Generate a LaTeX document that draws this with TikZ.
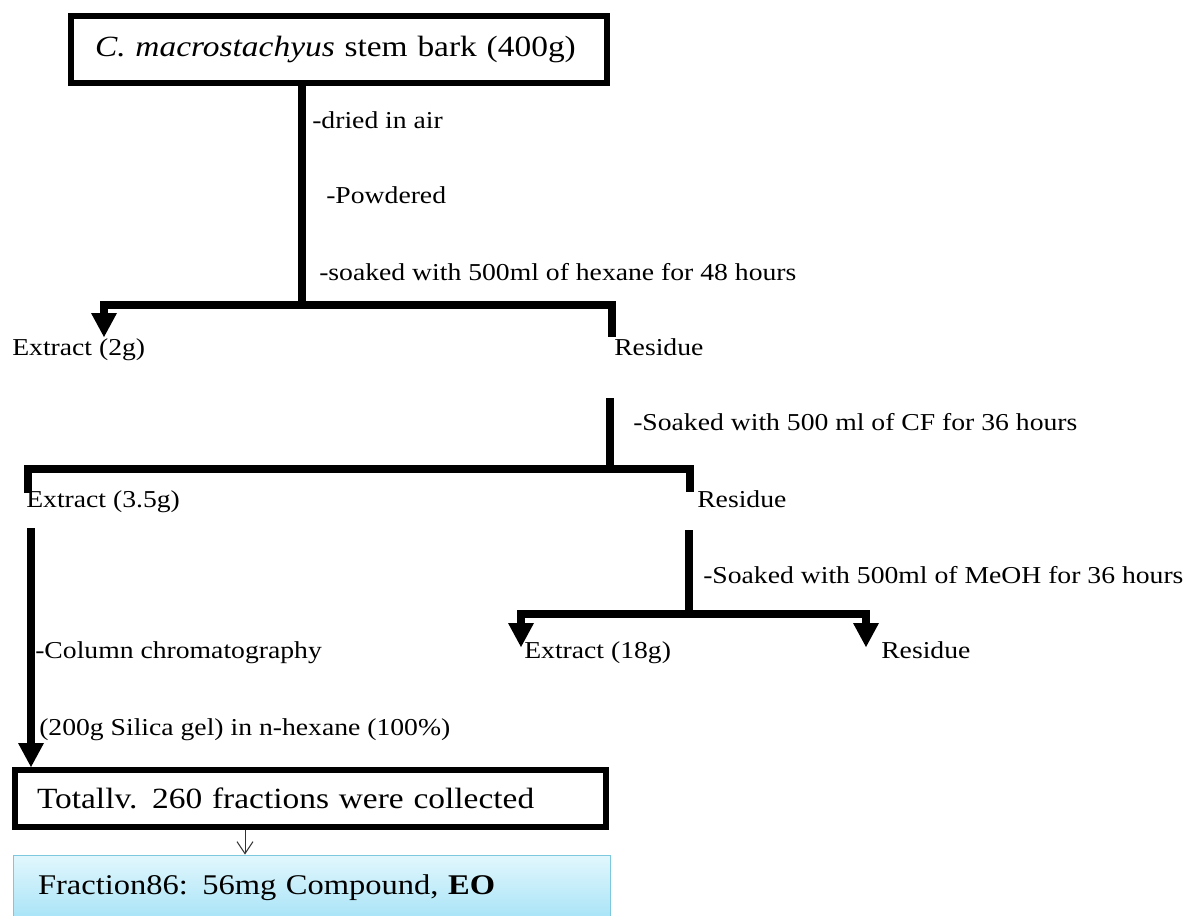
\documentclass[tikz,border=0pt]{standalone}
\usepackage{fontspec}
\setmainfont[FakeStretch=1.14]{Liberation Serif}
\usetikzlibrary{arrows.meta}
\definecolor{cyantop}{HTML}{E2F7FD}
\definecolor{cyanbot}{HTML}{A6E3F7}
\definecolor{cyanedge}{HTML}{7DC8DD}
\tikzset{
  bigtip/.tip={Triangle[width=19.5pt,length=18pt,line width=0pt]},
  conn/.style={line width=6pt, line join=miter, line cap=butt},
  thinarrow/.style={line width=0.75pt, draw=black!80, -{Straight Barb[length=9pt,width=12pt]}},
  lbl/.style={font=\fontsize{18.2pt}{21pt}\selectfont, inner sep=0pt, anchor=base west},
  bigfont/.style={font=\fontsize{22pt}{26pt}\selectfont},
  thickbox/.style={draw, line width=4.5pt, inner ysep=0pt, align=left, bigfont},
  cyanbox/.style={draw=cyanedge, line width=0.75pt, top color=cyantop, bottom color=cyanbot, inner ysep=0pt, align=left, font=\fontsize{21.4pt}{25pt}\selectfont}
}
\begin{document}
\begin{tikzpicture}[x=0.75pt,y=-0.75pt]
\useasboundingbox (0,0) rectangle (1188,915);
\fill[white] (0,0) rectangle (1188,915);
\clip (0,0) rectangle (1188,915);

% boxes
\node[thickbox, minimum width=402pt, minimum height=50.25pt, inner xsep=18pt, text width=366pt]
  (t0) at (339,49.5) {\textit{C. macrostachyus} stem bark (400g)};
\node[thickbox, minimum width=443.25pt, minimum height=42.75pt, inner xsep=16.5pt, text width=410.25pt]
  (t1) at (310.5,798.5) {Totallv. 260 fractions were collected};
\node[cyanbox, minimum width=447.75pt, minimum height=49.5pt, inner xsep=18.4pt, text width=410.95pt]
  (t2) at (312,888) {Fraction86: 56mg Compound, \textbf{EO}};

% labels
\node[lbl] (l1) at (312,128) {-dried in air};
\node[lbl] (l2) at (326,203) {-Powdered};
\node[lbl] (l3) at (319,280) {-soaked with 500ml of hexane for 48 hours};
\node[lbl] (e1) at (12,355) {Extract (2g)};
\node[lbl] (r1) at (614,355) {Residue};
\node[lbl] (l4) at (633,430) {-Soaked with 500 ml of CF for 36 hours};
\node[lbl] (e2) at (26,507) {Extract (3.5g)};
\node[lbl] (r2) at (697,507) {Residue};
\node[lbl] (l5) at (703,583) {-Soaked with 500ml of MeOH for 36 hours};
\node[lbl] (l6) at (35,658) {-Column chromatography};
\node[lbl] (e3) at (524,658) {Extract (18g)};
\node[lbl] (r3) at (881,658) {Residue};
\node[lbl] (l7) at (39,735) {(200g Silica gel) in n-hexane (100\%)};

% junction coordinates
\coordinate (j1) at (302,305);
\coordinate (s1L) at (104,337);
\coordinate (s1R) at (612,337);
\coordinate (v2top) at (610,398);
\coordinate (j2) at (610,469);
\coordinate (s2L) at (28,493);
\coordinate (s2R) at (690,492);
\coordinate (v3top) at (31,528);
\coordinate (v4top) at (689,530);
\coordinate (j3) at (689,614);
\coordinate (s3L) at (521,647);
\coordinate (s3R) at (866,647);
\coordinate (thin) at (245,830);

% connectors
\draw[conn] (t0.south -| j1) -- (j1);
\draw[conn,{bigtip}-] (s1L) -- (s1L |- j1) -- (s1R |- j1) -- (s1R);
\draw[conn] (v2top) -- (j2);
\draw[conn] (s2L) -- (s2L |- j2) -- (s2R |- j2) -- (s2R);
\draw[conn,-{bigtip}] (v3top) -- (v3top |- t1.north);
\draw[conn] (v4top) -- (j3);
\draw[conn,{bigtip}-{bigtip}] (s3L) -- (s3L |- j3) -- (s3R |- j3) -- (s3R);
\draw[thinarrow] (t1.south -| thin) -- (t2.north -| thin);
\end{tikzpicture}
\end{document}
